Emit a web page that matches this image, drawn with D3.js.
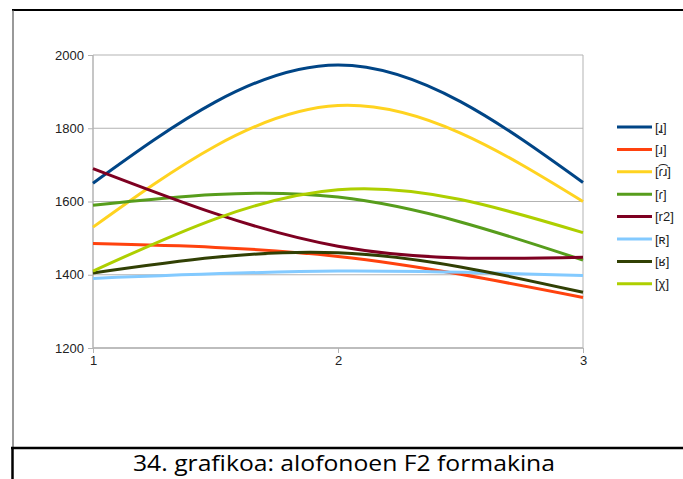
<!DOCTYPE html>
<html>
<head>
<meta charset="utf-8">
<script src="https://cdn.jsdelivr.net/npm/d3@7"></script>
<style>
  body { margin: 0; background: #fff; }
  .tick text { font-family: 'Liberation Sans', Arial, sans-serif; font-size: 13px; fill: #222; }
</style>
</head>
<body>
<div id="chart"></div>
<script>
var xValues = [1, 2, 3];
var yTicks = [1200, 1400, 1600, 1800, 2000];
var seriesNames = ['[ɹ̠]', '[ɹ]', '[ɾ͡ɹ]', '[ɾ]', '[r2]', '[ʀ]', '[ʁ]', '[χ]'];
var seriesValues = [
  [1650, 1973, 1652],
  [1485, 1450, 1338],
  [1530, 1862, 1600],
  [1590, 1612, 1440],
  [1690, 1478, 1448],
  [1390, 1410, 1398],
  [1405, 1460, 1352],
  [1410, 1632, 1515]
];
var colours = ['#004586', '#ff420e', '#ffd320', '#579d1c', '#7e0021', '#83caff', '#314004', '#aecf00'];

var width = 683, height = 479;

var svg = d3.select('#chart').append('svg')
    .attr('width', width)
    .attr('height', height);

var xScale = d3.scaleLinear().domain([1, 3]).range([93, 583]),
    yScale = d3.scaleLinear().domain([1200, 2000]).range([348, 55]);

// frame
svg.append('line').attr('x1', 12).attr('x2', width).attr('y1', 10).attr('y2', 10)
    .style('stroke', '#000').style('stroke-width', 2);
svg.append('line').attr('x1', 13).attr('x2', 13).attr('y1', 10).attr('y2', 448)
    .style('stroke', '#555').style('stroke-width', 1.2);
svg.append('line').attr('x1', 12.5).attr('x2', 12.5).attr('y1', 447).attr('y2', height)
    .style('stroke', '#000').style('stroke-width', 2.5);
svg.append('line').attr('x1', 11).attr('x2', width).attr('y1', 448).attr('y2', 448)
    .style('stroke', '#000').style('stroke-width', 2.5);

svg.append('text')
    .attr('x', 344)
    .attr('y', 471)
    .attr('textLength', 422)
    .attr('lengthAdjust', 'spacingAndGlyphs')
    .style('font-family', "'Open Sans', 'Liberation Sans', sans-serif")
    .style('font-size', '22px')
    .style('fill', '#000')
    .style('text-anchor', 'middle')
    .text('34. grafikoa: alofonoen F2 formakina');

// gridlines
svg.append('g')
  .selectAll('line')
  .data(yTicks)
  .enter().append('line')
    .attr('x1', xScale(1)).attr('x2', xScale(3))
    .attr('y1', function(d) { return yScale(d); })
    .attr('y2', function(d) { return yScale(d); })
    .style('stroke', '#b3b3b3');

svg.append('line')
    .attr('x1', xScale(3)).attr('x2', xScale(3))
    .attr('y1', yScale(2000)).attr('y2', yScale(1200))
    .style('stroke', '#b3b3b3');

var yAxis = svg.append('g')
    .attr('transform', 'translate(' + xScale(1) + ',0)')
    .call(d3.axisLeft(yScale).tickValues(yTicks).tickSize(5).tickPadding(4).tickFormat(d3.format('d')));

var xAxis = svg.append('g')
    .attr('transform', 'translate(0,' + yScale(1200) + ')')
    .call(d3.axisBottom(xScale).tickValues(xValues).tickSize(5).tickPadding(3).tickFormat(d3.format('d')));

svg.selectAll('.domain').style('stroke', '#b3b3b3').style('stroke-width', 1.5);
svg.selectAll('.tick line').style('stroke', '#b3b3b3');
yAxis.selectAll('.domain').attr('d', 'M0,' + yScale(2000) + 'V' + yScale(1200));
xAxis.selectAll('.domain').attr('d', 'M' + xScale(1) + ',0H' + xScale(3));

// lines
var line = d3.line()
    .x(function(d, i) { return xScale(xValues[i]); })
    .y(function(d) { return yScale(d); })
    .curve(d3.curveNatural);

svg.append('g')
  .selectAll('path')
  .data(seriesValues)
  .enter().append('path')
    .attr('d', line)
    .style('fill', 'none')
    .style('stroke', function(d, i) { return colours[i]; })
    .style('stroke-width', 3);

// legend
var legend = svg.selectAll('.legend')
    .data(seriesNames)
  .enter().append('g')
    .attr('class', 'legend')
    .attr('transform', function(d, i) { return 'translate(617,' + (127 + i * 22.4) + ')'; });

legend.append('line')
    .attr('x1', 0).attr('x2', 35)
    .style('stroke', function(d, i) { return colours[i]; })
    .style('stroke-width', 3);

legend.append('text')
    .attr('x', 38)
    .attr('dy', '.35em')
    .style('font-family', "'Liberation Sans', Arial, sans-serif")
    .style('font-size', '13px')
    .style('fill', '#222')
    .text(function(d) { return d; });
</script>
</body>
</html>
